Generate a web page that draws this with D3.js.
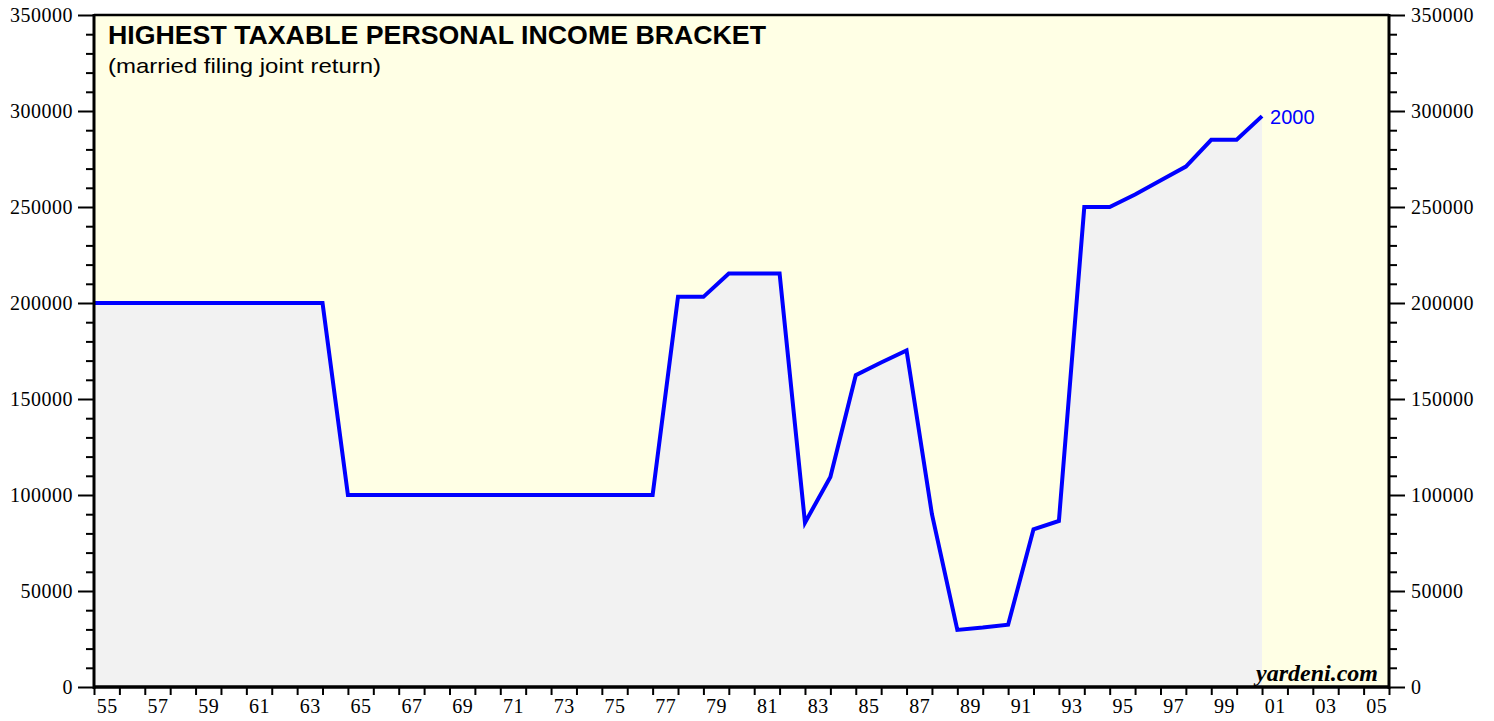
<!DOCTYPE html>
<html>
<head>
<meta charset="utf-8">
<script src="https://cdn.jsdelivr.net/npm/d3@7"></script>
<style>
  html, body { margin: 0; padding: 0; background: #ffffff; }
  svg { display: block; }
</style>
</head>
<body>
<svg id="chart" width="1494" height="721"></svg>
<script>
// ---- data (tax year -> top bracket threshold, married filing jointly, $) ----
const years = [1954,1955,1956,1957,1958,1959,1960,1961,1962,1963,
  1964,1965,1966,1967,1968,1969,1970,1971,1972,1973,1974,1975,1976,
  1977,1978,1979,1980,1981,1982,1983,1984,1985,1986,1987,1988,1989,1990,
  1991,1992,1993,1994,1995,1996,1997,1998,1999,2000];
const bracket = [200000,200000,200000,200000,200000,200000,200000,200000,200000,200000,
  100000,100000,100000,100000,100000,100000,100000,100000,100000,100000,100000,100000,100000,
  203200,203200,215400,215400,215400,85600,109400,162400,169020,175250,90000,29750,30950,32450,
  82150,86500,250000,250000,256500,263750,271050,285000,285000,297350];
const xTickLabels = ["55","57","59","61","63","65","67","69","71","73","75","77","79",
  "81","83","85","87","89","91","93","95","97","99","01","03","05"];
const yMajorTicks = [0,50000,100000,150000,200000,250000,300000,350000];
const titleText = "HIGHEST TAXABLE PERSONAL INCOME BRACKET";
const subtitleText = "(married filing joint return)";
const endLabel = "2000";
const sourceText = "yardeni.com";

// ---- layout ----
const W = 1494, H = 721;
const L = 94, R = 1389, T = 15, B = 687;
const svg = d3.select("#chart");

const x = d3.scaleLinear().domain([1955, 2006]).range([L, R]);
const y = d3.scaleLinear().domain([0, 350000]).range([B, T]);

// points plotted at end of tax year
const pts = years.map((yr, i) => ({ t: yr + 1, v: bracket[i] }));

// background
svg.append("rect").attr("x", L).attr("y", T).attr("width", R - L).attr("height", B - T)
  .attr("fill", "#ffffe5");

// area
svg.append("path").datum(pts)
  .attr("fill", "#f2f2f2")
  .attr("d", d3.area().x(d => x(d.t)).y0(y(0)).y1(d => y(d.v)));

// line
svg.append("path").datum(pts)
  .attr("fill", "none").attr("stroke", "#0000ff").attr("stroke-width", 4)
  .attr("stroke-linejoin", "miter")
  .attr("d", d3.line().x(d => x(d.t)).y(d => y(d.v)));

// end label
const last = pts[pts.length - 1];
svg.append("text").attr("x", x(last.t) + 8).attr("y", y(last.v) + 8)
  .attr("fill", "#0000ff").attr("font-family", "Liberation Sans, Arial, sans-serif")
  .attr("font-size", 20).text(endLabel);

// title
svg.append("text").attr("x", 108).attr("y", 44)
  .attr("font-family", "Liberation Sans, Arial, sans-serif").attr("font-weight", "bold")
  .attr("font-size", 25).attr("textLength", 658).attr("lengthAdjust", "spacingAndGlyphs")
  .attr("fill", "#000").text(titleText);
svg.append("text").attr("x", 108).attr("y", 73)
  .attr("font-family", "Liberation Sans, Arial, sans-serif")
  .attr("font-size", 21).attr("textLength", 273).attr("lengthAdjust", "spacingAndGlyphs")
  .attr("fill", "#000").text(subtitleText);

// source
svg.append("text").attr("x", 1378).attr("y", 681).attr("text-anchor", "end")
  .attr("font-family", "Liberation Serif, Times New Roman, serif").attr("font-weight", "bold")
  .attr("font-style", "italic").attr("font-size", 24).attr("fill", "#000").text(sourceText);

// ---- axes ----
const fontSerif = "Liberation Serif, Times New Roman, serif";
const yMinor = d3.range(0, 350001, 10000).filter(v => v % 50000 !== 0);

function styleAxis(g) {
  g.selectAll("text").attr("font-family", fontSerif).attr("font-size", 20)
    .attr("letter-spacing", 0.5).attr("fill", "#000");
  g.selectAll("line").attr("stroke", "#000").attr("stroke-width", 2);
  g.select(".domain").remove();
}

// left
svg.append("g").attr("transform", `translate(${L},0)`)
  .call(d3.axisLeft(y).tickValues(yMajorTicks).tickSize(16).tickPadding(5).tickFormat(d3.format("d")))
  .call(styleAxis);
svg.append("g").attr("transform", `translate(${L},0)`)
  .call(d3.axisLeft(y).tickValues(yMinor).tickSize(8).tickFormat(""))
  .call(styleAxis);
// right
svg.append("g").attr("transform", `translate(${R},0)`)
  .call(d3.axisRight(y).tickValues(yMajorTicks).tickSize(16).tickPadding(6).tickFormat(d3.format("d")))
  .call(styleAxis);
svg.append("g").attr("transform", `translate(${R},0)`)
  .call(d3.axisRight(y).tickValues(yMinor).tickSize(8).tickFormat(""))
  .call(styleAxis);

// bottom: tick every year, labels at odd years centred mid-year
svg.append("g").attr("transform", `translate(0,${B})`)
  .call(d3.axisBottom(x).tickValues(d3.range(1955, 2007)).tickSize(8).tickFormat(""))
  .call(styleAxis);
const labelYears = d3.range(1955, 2006, 2);
svg.append("g").attr("transform", `translate(0,${B})`)
  .call(d3.axisBottom(x).tickValues(labelYears.map(v => v + 0.5)).tickSize(0).tickPadding(12)
    .tickFormat((d, i) => xTickLabels[i]))
  .call(styleAxis);

// frame
svg.append("line").attr("x1", L).attr("x2", R).attr("y1", T).attr("y2", T)
  .attr("stroke", "#000").attr("stroke-width", 2.5);
svg.append("line").attr("x1", L).attr("x2", R).attr("y1", B).attr("y2", B)
  .attr("stroke", "#000").attr("stroke-width", 3.5);
svg.append("line").attr("x1", L).attr("x2", L).attr("y1", T - 1).attr("y2", B + 2)
  .attr("stroke", "#000").attr("stroke-width", 3);
svg.append("line").attr("x1", R).attr("x2", R).attr("y1", T - 1).attr("y2", B + 2)
  .attr("stroke", "#000").attr("stroke-width", 3);
</script>
</body>
</html>
